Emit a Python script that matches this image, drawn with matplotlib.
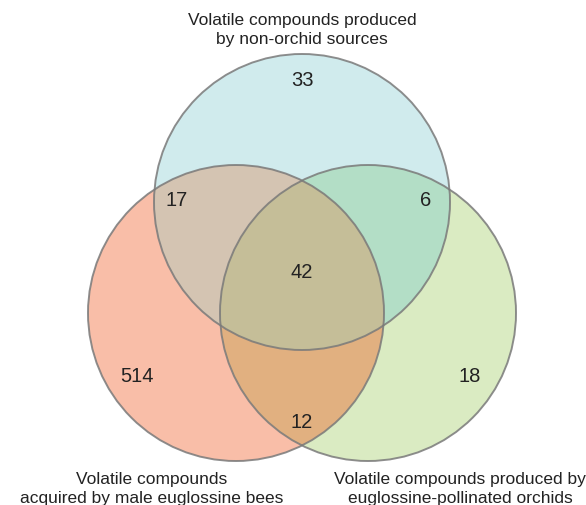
import numpy as np
import matplotlib.pyplot as plt
from matplotlib.patches import Circle, Polygon

plt.rcParams['font.family'] = ['Liberation Sans', 'DejaVu Sans']

# set labels and region counts
set_labels = [
    "Volatile compounds produced\nby non-orchid sources",
    "Volatile compounds\nacquired by male euglossine bees",
    "Volatile compounds produced by\neuglossine-pollinated orchids",
]
# regions: top only, left only, right only, top&left, top&right, left&right, all
region_names = ["T", "L", "R", "TL", "TR", "LR", "TLR"]
region_counts = [33, 514, 18, 17, 6, 12, 42]
region_colors = {
    "T": "#d0ebed", "L": "#f9bea8", "R": "#daebc2",
    "TL": "#d4c4b2", "TR": "#b3dec6", "LR": "#e1b080", "TLR": "#c5be98",
}

# circle layout (pixel coordinates of the picture)
centers = {"T": (302, 203), "L": (236, 314), "R": (368, 314)}
radius = 148

fig = plt.figure(figsize=(5.86, 5.06), dpi=100)
ax = fig.add_axes([0, 0, 1, 1])
ax.set_xlim(0, 586)
ax.set_ylim(506, 0)
ax.axis("off")


def circ(key, **kw):
    return Circle(centers[key], radius, **kw)


def lens(a, b, n=200):
    # intersection region of two equal circles as a polygon
    ca, cb = np.array(centers[a], float), np.array(centers[b], float)
    d = np.linalg.norm(cb - ca)
    phi = np.arccos(d / (2 * radius))
    tab = np.arctan2(*(cb - ca)[::-1])
    tba = np.arctan2(*(ca - cb)[::-1])
    t1 = np.linspace(tab - phi, tab + phi, n)
    t2 = np.linspace(tba - phi, tba + phi, n)
    pa = ca + radius * np.c_[np.cos(t1), np.sin(t1)]
    pb = cb + radius * np.c_[np.cos(t2), np.sin(t2)]
    return np.vstack([pa, pb])


# single circles
for k in ["T", "L", "R"]:
    ax.add_patch(circ(k, facecolor=region_colors[k], edgecolor="none"))

# pairwise overlaps
for a, b in [("T", "L"), ("T", "R"), ("L", "R")]:
    clip = circ(b, facecolor="none", edgecolor="none")
    ax.add_patch(clip)
    p = circ(a, facecolor=region_colors[a + b], edgecolor="none")
    ax.add_patch(p)
    p.set_clip_path(clip)

# triple overlap
clip = Polygon(lens("T", "L"), closed=True, facecolor="none", edgecolor="none")
ax.add_patch(clip)
p = circ("R", facecolor=region_colors["TLR"], edgecolor="none")
ax.add_patch(p)
p.set_clip_path(clip)

# outlines
for k in ["T", "L", "R"]:
    ax.add_patch(circ(k, facecolor="none", edgecolor="#7a7a7a", lw=1.4, alpha=0.85))

# region counts
count_pos = {"T": (302, 80), "L": (137, 376), "R": (470, 376), "TL": (177, 200),
             "TR": (426, 200), "LR": (302, 423), "TLR": (302, 272)}
for name, n in zip(region_names, region_counts):
    x, y = count_pos[name]
    ax.text(x, y, str(n), ha="center", va="center", fontsize=14.5, color="#222222")

# set labels
label_pos = [(302, 30), (152, 489), (460, 489)]
for lab, (x, y) in zip(set_labels, label_pos):
    ax.text(x, y, lab, ha="center", va="center", fontsize=12.5, color="#222222",
            linespacing=1.4)

fig.savefig("out.png", dpi=100)
